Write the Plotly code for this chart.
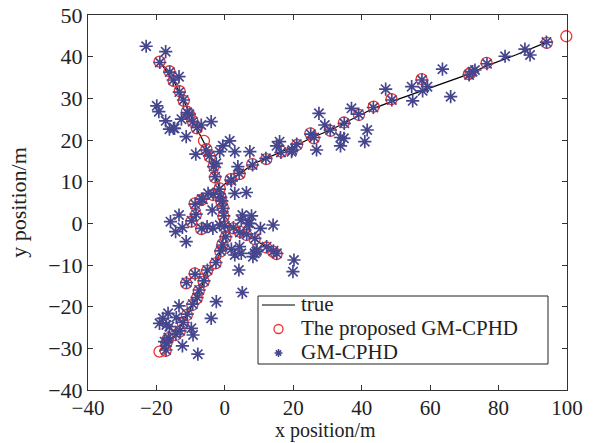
import plotly.graph_objects as go

# ---- true tracks (separated by None) ----
true_x = [-19.1, -15.0, -12.0, -9.0, -6.0, -4.0, -2.8, -1.5, -0.6, 0.0, None,
          -1.5, 1.7, 4.3, 8.0, 12.1, 16.5, 21.1, 25.5, 30.9, 34.8, 39.2, 43.5, 48.7, 57.5, 64.0, 71.3, 76.5, 85.0, 94.1, None,
          -19.1, -17.1, -14.4, -12.3, -9.5, -7.6, -6.2, -5.2, -2.7, -1.3, -0.6, 0.0, None,
          0.0, 2.4, 4.3, 6.3, 8.7, 12.1, 14.1, 15.1]
true_y = [38.8, 34.2, 29.4, 24.0, 19.2, 15.5, 11.2, 8.4, 4.0, 0.0, None,
          8.4, 10.6, 11.8, 14.2, 15.6, 17.2, 18.8, 20.6, 22.4, 24.0, 25.8, 27.6, 29.2, 31.8, 33.8, 35.8, 37.8, 40.4, 43.5, None,
          -30.8, -28.8, -26.8, -24.0, -19.6, -16.2, -14.0, -11.4, -9.6, -6.8, -4.0, -1.0, None,
          -0.6, -1.2, -2.2, -2.8, -3.8, -5.8, -6.8, -7.4]

# ---- proposed GM-CPHD estimates ----
prop_x = [-19.1, -16.2, -15.0, -13.2, -12.0, -11.1, -10.3, -9.5, -8.2, -6.1, -5.4, -4.4, -3.2, -2.9,
          -1.5, -3.5, -1.3, 1.7, 4.3, 8.0, 12.1, 16.5, 21.1, 25.0, 26.0, 30.9, 34.8, 39.2, 43.5,
          48.7, 57.5, 71.3, 71.8, 76.5, 94.1, 99.8,
          -8.8, -6.9, -0.6, -0.4, -8.5, -9.8, -6.9, -1.0, -0.1, 2.4, 4.3, 6.3, 8.7, 12.1, 14.1, 15.1,
          0.2, -0.7, -1.3, -2.7, -5.2, -8.8, -6.2, -11.3, -7.6, -8.2, -9.5, -11.1, -12.3, -13.2,
          -14.4, -16.6, -17.1, -17.3, -19.1]
prop_y = [38.8, 36.5, 34.2, 31.7, 29.4, 26.8, 26.0, 24.6, 22.8, 19.8, 17.8, 16.0, 13.8, 11.0,
          8.4, 6.8, 6.4, 10.6, 11.8, 14.2, 15.4, 17.2, 18.8, 21.6, 20.4, 22.2, 24.2, 26.0, 28.0,
          29.8, 34.6, 35.8, 36.1, 38.5, 43.3, 44.9,
          4.8, 5.6, 3.8, 1.6, 2.0, 0.4, -1.4, 5.2, -0.8, -1.2, -2.0, -2.8, -3.8, -5.8, -6.8, -7.4,
          -3.4, -5.0, -6.8, -9.6, -11.4, -12.0, -14.0, -14.4, -16.2, -18.0, -19.6, -22.0, -24.0, -26.0,
          -26.8, -27.6, -28.8, -30.6, -30.8]

# ---- GM-CPHD estimates ----
gm_x = [-19.0, -16.1, -15.1, -13.3, -12.1, -11.0, -10.4, -9.4, -8.1, -5.5, -4.5, -3.3, -2.8,
        -1.6, -3.4, -1.2, 1.8, 4.2, 8.1, 12.0, 16.4, 21.0, 25.1, 26.1, 30.8, 34.9, 39.1, 43.4,
        48.8, 57.6, 71.4, 72.4, 76.6, 94.0,
        -8.7, -6.8, -0.5, -0.3, -8.4, -9.7, -6.8, -0.9, 0.0, 2.5, 4.4, 6.4, 8.8, 12.2, 14.2, 15.2,
        0.3, -0.6, -1.2, -2.6, -5.1, -8.7, -6.1, -11.2, -7.5, -8.1, -9.4, -11.0, -12.2, -13.1,
        -14.3, -16.5, -17.0, -17.2,
        -23.0, -17.3, -13.4, -19.9, -19.3, -17.3, -16.2, -15.0, -12.7, -11.3, -4.0, -6.9, -8.5,
        -0.6, 1.4, -1.5, 2.9, 7.3, 3.8, 16.0, 15.1, 19.7, 2.9, 6.3, -3.7, 5.1, 7.8, -13.4,
        -4.9, -6.4, 1.9, -2.5, -14.7,
        -15.9, -12.4, -14.4, -11.3, 6.8, 10.4, 14.1, -5.2, -1.5, 8.2, 2.9, 4.8, 1.9, 9.2,
        20.2, 19.9, 4.1, 5.1, -2.5, -13.4, -4.0, -12.4, -7.9, -16.6, -18.1, -19.1, -17.1, -16.2,
        -14.2, -9.8, -9.3, -17.6, 4.3, 8.7, 9.4, -3.5, 4.8, 7.3,
        19.5, 26.8, 27.5, 29.2, 33.8, 34.8, 33.8, 37.0, 41.6, 40.9, 47.0, 54.6, 54.9, 57.8,
        59.2, 63.6, 66.0, 73.1, 81.9, 87.7, 89.2]
gm_y = [38.6, 36.3, 34.4, 31.5, 29.6, 26.6, 26.2, 24.4, 23.0, 17.6, 16.2, 13.6, 11.2,
        8.2, 7.0, 6.2, 10.4, 12.0, 14.0, 15.6, 17.0, 19.0, 21.4, 20.6, 22.4, 24.0, 26.2, 27.8,
        29.6, 34.4, 35.6, 36.4, 38.3, 43.5,
        4.6, 5.8, 3.6, 1.8, 2.2, 0.6, -1.2, 5.4, -0.6, -1.0, -2.2, -2.6, -3.6, -5.6, -6.6, -7.2,
        -3.2, -5.2, -6.6, -9.4, -11.2, -12.2, -13.8, -14.2, -16.0, -17.8, -19.4, -21.8, -23.8, -25.8,
        -26.6, -27.4, -28.6, -30.4,
        42.5, 41.2, 35.2, 28.2, 26.8, 24.6, 22.6, 22.8, 25.0, 20.8, 24.4, 23.6, 16.6,
        18.6, 19.8, 17.2, 17.2, 17.2, 13.6, 19.6, 18.6, 17.6, 7.2, 7.4, 3.2, 2.0, 1.8, 2.0,
        7.2, 5.8, 10.2, 14.4, 22.8,
        0.4, -1.0, -2.0, -4.4, 0.0, -1.2, -0.4, -0.8, -0.4, -8.0, -7.6, -7.2, -6.2, -6.8,
        -8.8, -11.6, -11.2, -16.6, -18.8, -19.8, -22.8, -29.4, -31.4, -21.6, -22.8, -24.0, -24.4, -24.8,
        -22.6, -25.2, -26.8, -28.4, -5.6, -7.2, -6.4, -1.2, 0.8, 0.0,
        17.2, 17.6, 26.4, 23.6, 20.6, 20.4, 18.6, 27.6, 22.4, 19.6, 32.2, 32.8, 29.4, 31.8,
        32.8, 37.0, 30.4, 36.8, 40.1, 41.8, 40.4]

x_ticks = [-40, -20, 0, 20, 40, 60, 80, 100]
y_ticks = [-40, -30, -20, -10, 0, 10, 20, 30, 40, 50]
legend_labels = ["true", "The proposed GM-CPHD", "GM-CPHD"]
x_title = "x position/m"
y_title = "y position/m"

FONT = "Liberation Serif, Times New Roman, serif"
TXT = "#222222"
RED = "#e8352e"
BLUE = "#46468e"

fig = go.Figure()
fig.add_trace(go.Scatter(x=true_x, y=true_y, mode="lines", name=legend_labels[0],
                         line=dict(color="black", width=1.2), cliponaxis=False, showlegend=False))
fig.add_trace(go.Scatter(x=prop_x, y=prop_y, mode="markers", name=legend_labels[1],
                         marker=dict(symbol="circle-open", size=11, color=RED,
                                     line=dict(width=1.3, color=RED)),
                         cliponaxis=False, showlegend=False))
fig.add_trace(go.Scatter(x=gm_x, y=gm_y, mode="markers", name=legend_labels[2],
                         marker=dict(symbol="asterisk-open", size=11, color=BLUE,
                                     line=dict(width=1.7, color=BLUE)),
                         cliponaxis=False, showlegend=False))

axis_common = dict(showgrid=False, zeroline=False, showline=True, linecolor="#333333",
                   linewidth=1, mirror="ticks", ticks="inside", ticklen=5, automargin=False,
                   tickcolor="#333333")
fig.update_xaxes(range=[-40, 100], tickvals=x_ticks, ticklabelstandoff=-1, **axis_common,
                 tickfont=dict(family=FONT, size=21, color=TXT))
fig.update_yaxes(range=[-40, 50], tickvals=y_ticks, **axis_common,
                 tickfont=dict(family=FONT, size=22, color=TXT),
                 title=dict(text=y_title, font=dict(family=FONT, size=22, color=TXT),
                            standoff=15))

# ---- legend drawn as a box with keys (paper coordinates of the plot area) ----
L = dict(l=88, r=31, t=15, b=53)
PW = 598 - L["l"] - L["r"]
PH = 443 - L["t"] - L["b"]
def px(xp):
    return (xp - L["l"]) / PW
def py(yp):
    return (443 - L["b"] - yp) / PH

row_y = [305, 329, 353]
shapes = [
    dict(type="rect", xref="paper", yref="paper", x0=px(258), x1=px(548), y0=py(364), y1=py(296),
         line=dict(color="#222222", width=1), fillcolor="white", layer="above"),
    dict(type="line", xref="paper", yref="paper", x0=px(262), x1=px(295), y0=py(row_y[0]), y1=py(row_y[0]),
         line=dict(color="#555555", width=1.5), layer="above"),
    dict(type="circle", xref="paper", yref="paper", xsizemode="pixel", ysizemode="pixel",
         xanchor=px(278.5), yanchor=py(row_y[1]), x0=-4.5, x1=4.5, y0=-4.5, y1=4.5,
         line=dict(color=RED, width=1.3), layer="above"),
    dict(type="path", xref="paper", yref="paper", xsizemode="pixel", ysizemode="pixel",
         xanchor=px(278.5), yanchor=py(row_y[2]),
         path="M-4,0 L4,0 M0,-4 L0,4 M-2.6,-2.6 L2.6,2.6 M-2.6,2.6 L2.6,-2.6",
         line=dict(color=BLUE, width=1.5), layer="above"),
]
annotations = [
    dict(text=lab, xref="paper", yref="paper", x=px(300), y=py(yy), xanchor="left", yanchor="middle",
         showarrow=False, font=dict(family=FONT, size=21, color=TXT), borderpad=0)
    for lab, yy in zip(legend_labels, [row_y[0] - 1, row_y[1] - 1, row_y[2] - 1])
]
annotations.append(dict(text=x_title, xref="paper", yref="paper", x=px(325), y=py(443),
                        xanchor="center", yanchor="bottom", showarrow=False, borderpad=0,
                        font=dict(family=FONT, size=20, color=TXT)))

fig.update_layout(
    width=598, height=443,
    margin=L,
    plot_bgcolor="white", paper_bgcolor="white",
    font=dict(family=FONT, size=22, color=TXT),
    shapes=shapes, annotations=annotations,
    showlegend=False,
)
fig.write_html("out.html")
